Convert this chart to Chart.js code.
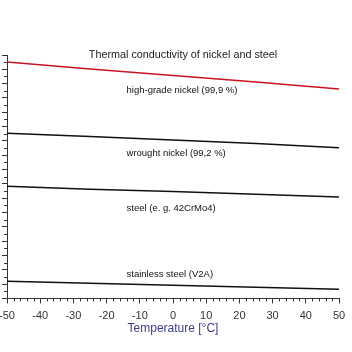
<!DOCTYPE html>
<html>
<head>
<meta charset="utf-8">
<script src="https://cdn.jsdelivr.net/npm/chart.js@4"></script>
<style>
  html, body { margin: 0; padding: 0; background: #fff; }
  #wrap { width: 352px; height: 352px; }
</style>
</head>
<body>
<div id="wrap"><canvas id="chart" width="352" height="352"></canvas></div>
<script>
const temps = [-50, -25, 0, 25, 50];

// thermal conductivity (W/mK, axis labels are cut off in the original)
const highGradeNickel = [92.6, 90.1, 87.8, 85.6, 83.1];
const wroughtNickel   = [67.7, 66.5, 65.3, 64.1, 62.6];
const steel42CrMo4    = [49.2, 48.1, 47.3, 46.4, 45.4];
const stainlessV2A    = [16.0, 15.3, 14.6, 13.9, 13.2];

const seriesNames = ['high-grade nickel (99,9 %)', 'wrought nickel (99,2 %)', 'steel (e. g. 42CrMo4)', 'stainless steel (V2A)'];
const chartTitle = 'Thermal conductivity of nickel and steel';
const xTitle = 'Temperature [°C]';

// where each curve label sits (data coords, left aligned)
const labelSpots = [
    { x: -14, y: 82.8 },
    { x: -14, y: 60.7 },
    { x: -14, y: 41.5 },
    { x: -14, y: 18.4 }
];

function toPoints(values) {
    return values.map((v, i) => ({ x: temps[i], y: v }));
}

// minor ticks + curve labels + title, drawn from the chart's own scales
const extras = {
    id: 'extras',
    afterDraw(chart) {
        const { ctx, chartArea, scales } = chart;
        const xs = scales.x, ys = scales.y;
        ctx.save();
        ctx.strokeStyle = '#333';
        ctx.lineWidth = 1;
        ctx.beginPath();
        for (let v = -50; v <= 50; v += 2) {
            if (v % 10 === 0) continue;
            const px = Math.round(xs.getPixelForValue(v)) + 0.5;
            ctx.moveTo(px, chartArea.bottom);
            ctx.lineTo(px, chartArea.bottom + 3);
        }
        for (let v = 12.5; v < 95; v += 5) {
            const py = Math.round(ys.getPixelForValue(v)) + 0.5;
            ctx.moveTo(chartArea.left, py);
            ctx.lineTo(chartArea.left - 3, py);
        }
        ctx.stroke();

        ctx.fillStyle = '#111';
        ctx.font = '9.5px "Liberation Sans", Arial, sans-serif';
        ctx.textAlign = 'left';
        ctx.textBaseline = 'middle';
        seriesNames.forEach((name, i) => {
            const p = labelSpots[i];
            ctx.fillText(name, xs.getPixelForValue(p.x), ys.getPixelForValue(p.y));
        });

        ctx.font = '10.8px "Liberation Sans", Arial, sans-serif';
        ctx.textAlign = 'center';
        ctx.fillStyle = '#222';
        ctx.fillText(chartTitle, (chartArea.left + chartArea.right) / 2 + 10, chartArea.top);
        ctx.restore();
    }
};

new Chart(document.getElementById('chart').getContext('2d'), {
    type: 'line',
    data: {
        datasets: [
            { data: toPoints(highGradeNickel), borderColor: '#c8141e', borderWidth: 1.5 },
            { data: toPoints(wroughtNickel), borderColor: '#111', borderWidth: 1.5 },
            { data: toPoints(steel42CrMo4), borderColor: '#111', borderWidth: 1.5 },
            { data: toPoints(stainlessV2A), borderColor: '#111', borderWidth: 1.5 }
        ]
    },
    options: {
        responsive: false,
        animation: false,
        layout: { padding: { top: 55, left: 2, right: 13, bottom: 13 } },
        elements: { point: { radius: 0 }, line: { tension: 0 } },
        plugins: {
            legend: { display: false },
            tooltip: { enabled: false }
        },
        scales: {
            x: {
                type: 'linear',
                min: -50,
                max: 50,
                afterFit(scale) { scale.paddingLeft = 0; scale.paddingRight = 0; },
                ticks: {
                    stepSize: 10,
                    color: '#333',
                    padding: 6,
                    font: { family: '"Liberation Sans", Arial, sans-serif', size: 11 }
                },
                grid: { drawOnChartArea: false, tickLength: 5, color: '#333' },
                border: { color: '#333' },
                title: {
                    display: true,
                    text: xTitle,
                    color: '#3c3c8c',
                    padding: { top: -7, bottom: 3 },
                    font: { family: '"Liberation Sans", Arial, sans-serif', size: 12 }
                }
            },
            y: {
                min: 10,
                max: 95,
                ticks: { display: false, stepSize: 5 },
                grid: { drawOnChartArea: false, tickLength: 5, color: '#333' },
                border: { color: '#333' }
            }
        }
    },
    plugins: [extras]
});
</script>
</body>
</html>
